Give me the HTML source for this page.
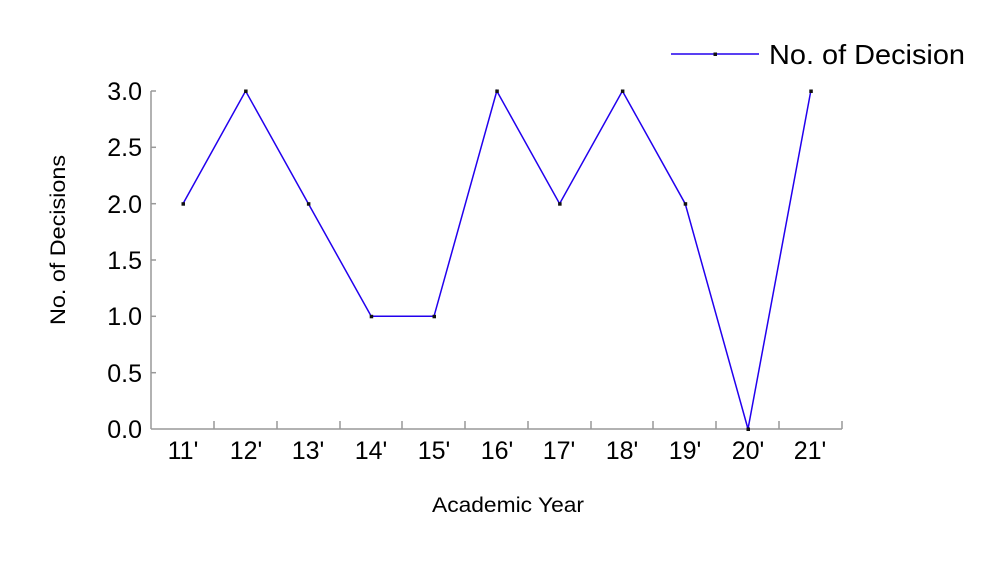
<!DOCTYPE html>
<html><head><style>body{margin:0;background:#fff}</style></head><body>
<svg width="1007" height="560" xmlns="http://www.w3.org/2000/svg" font-family="Liberation Sans, sans-serif">
<rect width="1007" height="560" fill="#fff"/>
<g stroke="#999" stroke-width="1.5" fill="none">
<line x1="151" y1="91" x2="151" y2="429"/>
<line x1="151" y1="429" x2="842" y2="429"/>
<line x1="151" y1="91" x2="156" y2="91"/>
<line x1="151" y1="147.3" x2="156" y2="147.3"/>
<line x1="151" y1="203.7" x2="156" y2="203.7"/>
<line x1="151" y1="260" x2="156" y2="260"/>
<line x1="151" y1="316.3" x2="156" y2="316.3"/>
<line x1="151" y1="372.7" x2="156" y2="372.7"/>
<line x1="214" y1="429" x2="214" y2="421"/>
<line x1="277" y1="429" x2="277" y2="421"/>
<line x1="340" y1="429" x2="340" y2="421"/>
<line x1="402" y1="429" x2="402" y2="421"/>
<line x1="465" y1="429" x2="465" y2="421"/>
<line x1="528" y1="429" x2="528" y2="421"/>
<line x1="591" y1="429" x2="591" y2="421"/>
<line x1="653" y1="429" x2="653" y2="421"/>
<line x1="716" y1="429" x2="716" y2="421"/>
<line x1="779" y1="429" x2="779" y2="421"/>
<line x1="842" y1="429" x2="842" y2="421"/>
</g>
<g font-size="25" fill="#000" text-anchor="end">
<text x="142" y="100">3.0</text><text x="142" y="156">2.5</text><text x="142" y="213">2.0</text>
<text x="142" y="269">1.5</text><text x="142" y="325">1.0</text><text x="142" y="382">0.5</text><text x="142" y="438">0.0</text>
</g>
<g font-size="25" fill="#000" text-anchor="middle">
<text x="183" y="459">11'</text><text x="246" y="459">12'</text><text x="308" y="459">13'</text><text x="371" y="459">14'</text>
<text x="434" y="459">15'</text><text x="497" y="459">16'</text><text x="559" y="459">17'</text><text x="622" y="459">18'</text>
<text x="685" y="459">19'</text><text x="748" y="459">20'</text><text x="810" y="459">21'</text>
</g>
<text x="432" y="512" font-size="21" textLength="152" lengthAdjust="spacingAndGlyphs">Academic Year</text>
<text transform="translate(65,325) rotate(-90)" font-size="21" textLength="170" lengthAdjust="spacingAndGlyphs">No. of Decisions</text>
<polyline fill="none" stroke="#2200ee" stroke-width="1.5" points="183,203.7 245.6,91 308.4,203.7 371.2,316.3 434,316.3 496.8,91 559.6,203.7 622.4,91 685.2,203.7 748,429 810.8,91"/>
<g fill="#111">
<rect x="181.5" y="202.2" width="3.5" height="3.5"/><rect x="244.1" y="89.5" width="3.5" height="3.5"/><rect x="306.9" y="202.2" width="3.5" height="3.5"/>
<rect x="369.7" y="314.8" width="3.5" height="3.5"/><rect x="432.5" y="314.8" width="3.5" height="3.5"/><rect x="495.3" y="89.5" width="3.5" height="3.5"/>
<rect x="558.1" y="202.2" width="3.5" height="3.5"/><rect x="620.9" y="89.5" width="3.5" height="3.5"/><rect x="683.7" y="202.2" width="3.5" height="3.5"/>
<rect x="746.5" y="427.5" width="3.5" height="3.5"/><rect x="809.3" y="89.5" width="3.5" height="3.5"/>
</g>
<line x1="671" y1="54" x2="759" y2="54" stroke="#2200ee" stroke-width="1.5"/>
<rect x="713.5" y="52.5" width="3.5" height="3.5" fill="#111"/>
<text x="769" y="64" font-size="28" textLength="196" lengthAdjust="spacingAndGlyphs">No. of Decision</text>
</svg>
</body></html>
